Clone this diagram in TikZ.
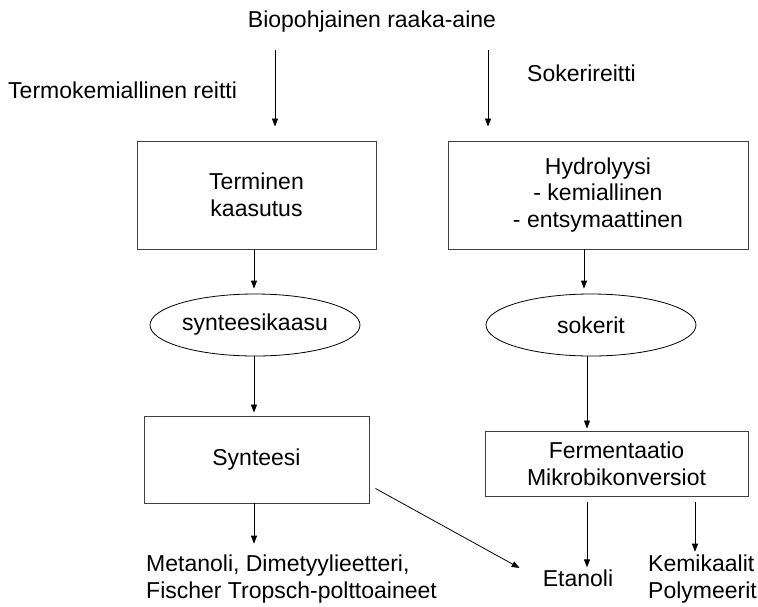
\documentclass[tikz,border=0pt]{standalone}
\usepackage{fontspec}
\setmainfont{Liberation Sans}
\usetikzlibrary{arrows.meta,shapes.geometric}
\begin{document}
\begin{tikzpicture}[x=1pt,y=-1pt,
  every node/.style={font=\fontsize{23}{26.7}\selectfont, inner sep=0pt},
  box/.style={draw=black!75, line width=0.9pt, rectangle, align=center},
  oval/.style={draw=black, line width=0.8pt, ellipse, align=center},
  arr/.style={-{Triangle[length=8pt,width=6pt]}, line width=0.8pt}]
\useasboundingbox (0,0) rectangle (758,606);

\node (bio) at (372,22) {Biopohjainen raaka-aine};
\node[anchor=west] (termo) at (8,90) {Termokemiallinen reitti};
\node[anchor=west] (sokeri) at (527,73) {Sokerireitti};

\node[box, minimum width=239pt, minimum height=108pt] (tk) at (256.5,195) {Terminen\\kaasutus};
\node[box, minimum width=300pt, minimum height=108pt] (hy) at (598,195) {Hydrolyysi\\- kemiallinen\\- entsymaattinen};

\node[oval, minimum width=210pt, minimum height=62pt] (sk) at (255,325) {synteesikaasu};
\node[oval, minimum width=210pt, minimum height=62pt] (so) at (591,325) {sokerit};

\node[box, minimum width=225pt, minimum height=87pt] (sy) at (256.5,459.5) {Synteesi};
\node[box, minimum width=263pt, minimum height=65pt] (fe) at (616.5,463.5) {Fermentaatio\\Mikrobikonversiot};

\node[align=left, anchor=west] (me) at (146,579) {Metanoli, Dimetyylieetteri,\\Fischer Tropsch-polttoaineet};
\node (et) at (578,578) {Etanoli};
\node[align=left, anchor=west] (ke) at (648,579) {Kemikaalit\\Polymeerit};

\coordinate (s1) at (275,50);
\coordinate (s2) at (488,50);
\draw[arr, shorten >=14pt] (s1) -- (s1 |- tk.north);
\draw[arr, shorten >=14pt] (s2) -- (s2 |- hy.north);

\coordinate (l1) at (254,0);
\draw[arr, shorten >=5pt] (l1 |- tk.south) -- (l1 |- sk.north);
\coordinate (r1) at (584,0);
\draw[arr, shorten >=5pt] (r1 |- hy.south) -- (r1 |- so.north);

\draw[arr, shorten >=3pt] (l1 |- sk.south) -- (l1 |- sy.north);
\coordinate (f1) at (587,0);
\draw[arr, shorten >=2pt] (f1 |- so.south) -- (f1 |- fe.north);

\draw[arr, shorten >=11pt] (l1 |- sy.south) -- (l1 |- me.north);
\draw[arr, shorten <=6pt, shorten >=2pt] (f1 |- fe.south) -- (f1 |- et.north);
\coordinate (f2) at (695,0);
\draw[arr, shorten <=6pt, shorten >=3pt] (f2 |- fe.south) -- (f2 |- ke.north);
\draw[arr] ([xshift=6pt,yshift=15pt]sy.south east) -- ([xshift=-23pt,yshift=10pt]et.west);
\end{tikzpicture}
\end{document}
